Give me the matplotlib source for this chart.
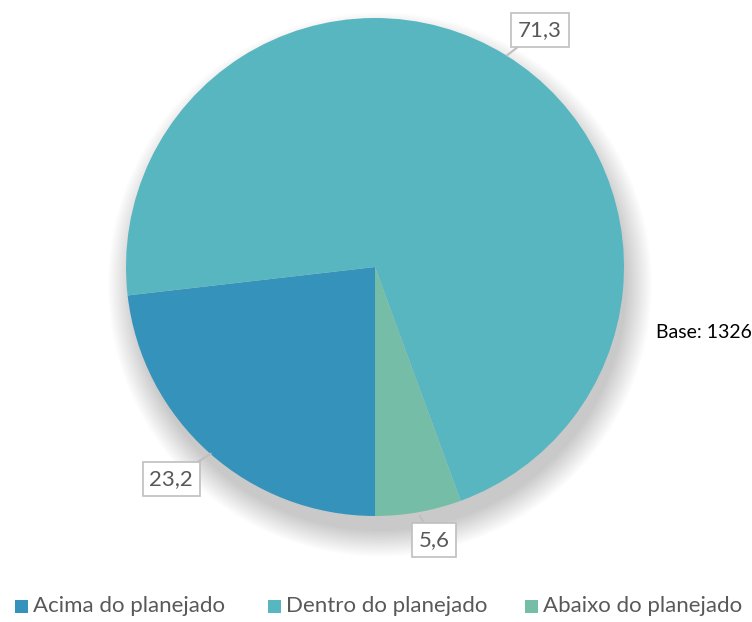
# pie of planned vs actual, with callout labels

import matplotlib.pyplot as plt
from matplotlib.patches import Circle, Rectangle

plt.rcParams['font.family'] = ['Lato', 'DejaVu Sans']

labels = ['Acima do planejado', 'Dentro do planejado', 'Abaixo do planejado']
values = [23.2, 71.3, 5.6]
value_text = ['23,2', '71,3', '5,6']
colors = ['#3593BB', '#58B6C0', '#75BDA7']
base_text = 'Base: 1326'

W, H = 752, 622
cx, cy, r = 375, 267, 249

fig = plt.figure(figsize=(W / 100, H / 100), dpi=100)
ax = fig.add_axes([(cx - r) / W, (H - cy - r) / H, 2 * r / W, 2 * r / H])

wedges, _ = ax.pie(values, colors=colors, startangle=270, counterclock=False,
                   radius=1, wedgeprops=dict(lw=0))
for w in wedges:
    w.set_zorder(2)

ax.set_xlim(-1, 1)
ax.set_ylim(-1, 1)
ax.set_aspect('equal')
ax.axis('off')

# soft shadow, mostly below the pie
for i in range(18):
    rr = 0.99 + i * 0.006
    ax.add_patch(Circle((0.02, -0.07), rr, color='k', alpha=0.011,
                        lw=0, zorder=0, clip_on=False))

# callout boxes: (centre, point on slice edge)
box_pos = [(-0.819, -0.851), (0.663, 0.952), (0.237, -1.096)]
tip_pos = [(-0.66, -0.75), (0.53, 0.85), (0.18, -1.0)]
for txt, (bx, by), (tx, ty) in zip(value_text, box_pos, tip_pos):
    ax.annotate(txt, xy=(tx, ty), xytext=(bx, by), ha='center', va='center',
                fontsize=16, color='#595959', zorder=5, annotation_clip=False,
                bbox=dict(boxstyle='square,pad=0.3', fc='white', ec='#BFBFBF', lw=1.2),
                arrowprops=dict(arrowstyle='-', color='#BFBFBF', lw=1.5,
                                shrinkA=0, shrinkB=0))

fig.text(704 / W, 1 - 333 / H, base_text, ha='center', va='center',
         fontsize=14, color='black')

# legend
leg_x = [15, 268, 525]
for x0, lab, col in zip(leg_x, labels, colors):
    fig.patches.append(Rectangle((x0 / W, 1 - 613 / H), 13 / W, 13 / H,
                                 transform=fig.transFigure, fc=col, ec='none'))
    fig.text((x0 + 18) / W, 1 - 606 / H, lab, ha='left', va='center',
             fontsize=16, color='#595959')

fig.savefig('out.png', dpi=100)
